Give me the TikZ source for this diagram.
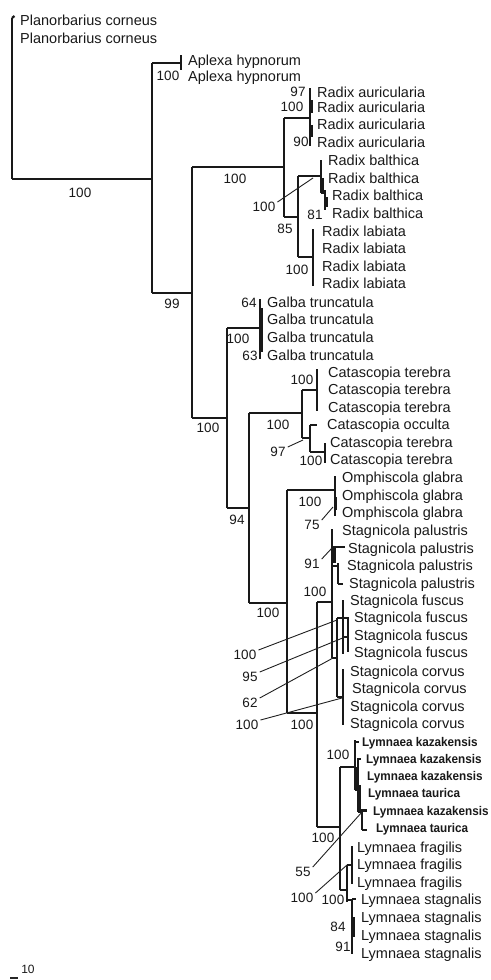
\documentclass[tikz,border=0pt]{standalone}
\usepackage{fontspec}
\setmainfont{Liberation Sans}
\newfontfamily\lymfont[FakeStretch=0.93]{Liberation Sans}
\begin{document}
\begin{tikzpicture}[x=1pt,y=-1pt,
  br/.style={line width=2.2pt, draw=black!90},
  thk/.style={line width=3.6pt, draw=black!90},
  ldr/.style={line width=0.9pt, draw=black!88},
  leaf/.style={anchor=base west, inner sep=0pt, yshift=-5pt, font=\fontsize{14.5}{16}\selectfont, text=black!90},
  lym/.style={anchor=base west, inner sep=0pt, yshift=-4.5pt, font=\fontsize{12.6}{14}\lymfont\bfseries, text=black!90},
  bs/.style={inner sep=0pt, font=\fontsize{13.5}{15}\selectfont, text=black!90},
]
\useasboundingbox (0,0) rectangle (490,980);

% ---------- internal nodes (top, bottom, junction) ----------
\coordinate (R0t) at (12,18);  \coordinate (R0b) at (12,179);
\coordinate (At) at (152,63);  \coordinate (Ab) at (152,293); \coordinate (A) at (152,179);
\coordinate (Apt) at (181,55); \coordinate (Apb) at (181,70); \coordinate (Ap) at (181,63);
\coordinate (Bt) at (192,167); \coordinate (Bb) at (192,418); \coordinate (B) at (192,293);
\coordinate (Radt) at (284,118); \coordinate (Radb) at (284,217); \coordinate (Rad) at (284,167);
\coordinate (Raurt) at (310,88); \coordinate (Raurb) at (310,146); \coordinate (Raur) at (310,118);
\coordinate (BLt) at (298,176); \coordinate (BLb) at (298,257); \coordinate (BL) at (298,217);
\coordinate (Rbalt) at (321,160); \coordinate (Rbalb) at (321,193); \coordinate (Rbal) at (321,176);
\coordinate (Rbaltt) at (325,190); \coordinate (Rbaltb) at (325,210); \coordinate (Rbalt2) at (325,193);
\coordinate (Rlabt) at (313,229); \coordinate (Rlabb) at (313,286); \coordinate (Rlab) at (313,257);
\coordinate (Ct) at (227,328); \coordinate (Cb) at (227,508); \coordinate (C) at (227,418);
\coordinate (Galt) at (260,299); \coordinate (Galb) at (260,359); \coordinate (Gal) at (260,328);
\coordinate (Dt) at (249,413); \coordinate (Db) at (249,603); \coordinate (D) at (249,508);
\coordinate (Catt) at (302,390); \coordinate (Catb) at (302,438); \coordinate (Cat) at (302,413);
\coordinate (Caat) at (317,369); \coordinate (Caab) at (317,411); \coordinate (Caa) at (317,390);
\coordinate (Cabt) at (310,425); \coordinate (Cabb) at (310,452); \coordinate (Cab) at (310,438);
\coordinate (Cact) at (325,443); \coordinate (Cacb) at (325,463); \coordinate (Cac) at (325,452);
\coordinate (Et) at (287,490); \coordinate (Eb) at (287,713); \coordinate (E) at (287,603);
\coordinate (Omt) at (335,476); \coordinate (Omb) at (335,516); \coordinate (Om) at (335,490);
\coordinate (Ft) at (317,602); \coordinate (Fb) at (317,827); \coordinate (F) at (317,713);
\coordinate (Gt) at (332,529); \coordinate (Gb) at (332,658); \coordinate (G) at (332,602);
\coordinate (Palt) at (338,563); \coordinate (Palb) at (338,584); \coordinate (Pal) at (338,566);
\coordinate (Ht) at (337,618); \coordinate (Hb) at (337,697); \coordinate (H) at (337,658);
\coordinate (Fust) at (343,600); \coordinate (Fusb) at (343,654);
\coordinate (Fbox) at (348,652);
\coordinate (Cort) at (343,669); \coordinate (Corb) at (343,725); \coordinate (Cor) at (343,697);
\coordinate (Lt) at (340,767); \coordinate (Lb) at (340,890); \coordinate (L) at (340,827);
\coordinate (Kt) at (355,740); \coordinate (Kb) at (355,790); \coordinate (K) at (355,767);
\coordinate (Kat) at (358,758); \coordinate (Kab) at (358,812);
\coordinate (Kbt) at (362,809); \coordinate (Kbb) at (362,830); \coordinate (Kb2) at (362,812);
\coordinate (Mt) at (347,865); \coordinate (Mb) at (347,902); \coordinate (M) at (347,890);
\coordinate (Frat) at (352,846); \coordinate (Frab) at (352,884); \coordinate (Fra) at (352,865);
\coordinate (Stat) at (352,899); \coordinate (Stab) at (352,954); \coordinate (Sta) at (352,900);

% ---------- verticals ----------
\foreach \n in {R0,A,Ap,B,Rad,Raur,BL,Rbal,Rbalt,Rlab,C,Gal,D,Cat,Caa,Cab,Cac,E,Om,F,G,Pal,H,Fus,Cor,L,K,Ka,Kb,M,Fra,Sta}
  \draw[br] (\n t) -- (\n b);
\draw[br] (R0t) -- (14.5,16);

% ---------- horizontals (parent -> child) ----------
\draw[br] (R0t |- A) -- (A);
\draw[br] (At |- Ap) -- (Ap);
\draw[br] (At |- B) -- (B);
\draw[br] (Bt |- Rad) -- (Rad);
\draw[br] (Radt |- Raur) -- (Raur);
\draw[br] (Radt |- BL) -- (BL);
\draw[br] (BLt |- Rbal) -- (Rbal);
\draw[br] (Rbalt |- Rbalt2) -- (Rbalt2);
\draw[br] (BLt |- Rlab) -- (Rlab);
\draw[br] (Bt |- C) -- (C);
\draw[br] (Ct |- Gal) -- (Gal);
\draw[br] (Ct |- D) -- (D);
\draw[br] (Dt |- Cat) -- (Cat);
\draw[br] (Catt |- Caa) -- (Caa);
\draw[br] (Catt |- Cab) -- (Cab);
\draw[br] (Cabt |- Cac) -- (Cac);
\draw[br] (Cabt) -- (317,425);
\draw[br] (Dt |- E) -- (E);
\draw[br] (Et |- Om) -- (Om);
\draw[br] (Et |- F) -- (F);
\draw[br] (Ft |- G) -- (G);
\draw[br] (332,547) -- (345,547);
\draw[br] (Gt |- Pal) -- (Pal);
\draw[br] (Palb) -- (343,584);
\draw[br] (Gt |- H) -- (H);
\draw[br] (Ht) -- (Ht -| Fbox) -- (Fbox);
\draw[br] (343,637) -- (348,637);
\draw[br] (Ht |- Cor) -- (Cor);
\draw[br] (Ft |- L) -- (L);
\draw[br] (Lt |- K) -- (K);
\draw[br] (355,742) -- (359,742);
\draw[br] (358,759) -- (361,759);
\draw[br] (Kb) -- (Kb -| Kat);
\draw[br] (Kat |- Kb2) -- (Kb2);
\draw[br] (362,810.5) -- (367,810.5);
\draw[br] (Kbb) -- (367,830);
\draw[br] (Lt |- M) -- (M);
\draw[br] (Mt |- Fra) -- (Fra);
\draw[br] (Mt |- Sta) -- (Sta);
\draw[br] (Stat) -- (356,899);

% ---------- collapsed (thick) parts ----------
\draw[thk] (311,100) -- (311,113);
\draw[thk] (311,125) -- (311,137);
\draw[thk] (322,178) -- (322,192);
\draw[thk] (326,197) -- (326,207);
\draw[thk] (261,308) -- (261,352);
\draw[thk] (335.5,497) -- (335.5,510);
\draw[thk] (334,547) -- (334,563);
\draw[thk] (356,767) -- (356,790);
\draw[thk] (359,785) -- (359,812);
\draw[thk] (353,917) -- (353,937);

% ---------- leaves ----------
\node[leaf] (l1) at (20,20) {Planorbarius corneus};
\node[leaf] (l2) at (20,38) {Planorbarius corneus};
\node[leaf] (l3) at (188,60) {Aplexa hypnorum};
\node[leaf] (l4) at (188,76) {Aplexa hypnorum};
\node[leaf] (l5) at (317,92) {Radix auricularia};
\node[leaf] (l6) at (317,107) {Radix auricularia};
\node[leaf] (l7) at (317,124) {Radix auricularia};
\node[leaf] (l8) at (317,142) {Radix auricularia};
\node[leaf] (l9) at (328,160) {Radix balthica};
\node[leaf] (l10) at (328,178) {Radix balthica};
\node[leaf] (l11) at (332,195) {Radix balthica};
\node[leaf] (l12) at (332,213) {Radix balthica};
\node[leaf] (l13) at (322,231) {Radix labiata};
\node[leaf] (l14) at (322,248) {Radix labiata};
\node[leaf] (l15) at (322,266) {Radix labiata};
\node[leaf] (l16) at (322,283) {Radix labiata};
\node[leaf] (l17) at (267,302) {Galba truncatula};
\node[leaf] (l18) at (267,319) {Galba truncatula};
\node[leaf] (l19) at (267,337) {Galba truncatula};
\node[leaf] (l20) at (267,355) {Galba truncatula};
\node[leaf] (l21) at (328,372) {Catascopia terebra};
\node[leaf] (l22) at (328,389) {Catascopia terebra};
\node[leaf] (l23) at (328,407) {Catascopia terebra};
\node[leaf] (l24) at (327,424) {Catascopia occulta};
\node[leaf] (l25) at (330,442) {Catascopia terebra};
\node[leaf] (l26) at (330,459) {Catascopia terebra};
\node[leaf] (l27) at (342,477) {Omphiscola glabra};
\node[leaf] (l28) at (342,495) {Omphiscola glabra};
\node[leaf] (l29) at (342,512) {Omphiscola glabra};
\node[leaf] (l30) at (342,530) {Stagnicola palustris};
\node[leaf] (l31) at (348,548) {Stagnicola palustris};
\node[leaf] (l32) at (347,565) {Stagnicola palustris};
\node[leaf] (l33) at (349,583) {Stagnicola palustris};
\node[leaf] (l34) at (350,600) {Stagnicola fuscus};
\node[leaf] (l35) at (354,617) {Stagnicola fuscus};
\node[leaf] (l36) at (354,635) {Stagnicola fuscus};
\node[leaf] (l37) at (354,652) {Stagnicola fuscus};
\node[leaf] (l38) at (350,671) {Stagnicola corvus};
\node[leaf] (l39) at (352,688) {Stagnicola corvus};
\node[leaf] (l40) at (350,706) {Stagnicola corvus};
\node[leaf] (l41) at (350,723) {Stagnicola corvus};
\node[lym] (l42) at (362,742) {Lymnaea kazakensis};
\node[lym] (l43) at (366,759) {Lymnaea kazakensis};
\node[lym] (l44) at (367,776) {Lymnaea kazakensis};
\node[lym] (l45) at (368,793) {Lymnaea taurica};
\node[lym] (l46) at (373,811) {Lymnaea kazakensis};
\node[lym] (l47) at (376,828) {Lymnaea taurica};
\node[leaf] (l48) at (357,847) {Lymnaea fragilis};
\node[leaf] (l49) at (357,864) {Lymnaea fragilis};
\node[leaf] (l50) at (357,882) {Lymnaea fragilis};
\node[leaf] (l51) at (361,899) {Lymnaea stagnalis};
\node[leaf] (l52) at (361,917) {Lymnaea stagnalis};
\node[leaf] (l53) at (361,935) {Lymnaea stagnalis};
\node[leaf] (l54) at (361,953) {Lymnaea stagnalis};

% ---------- support values ----------
\node[bs] (s1) at (80,193) {100};
\node[bs] (s2) at (168,76) {100};
\node[bs] (s3) at (172,304) {99};
\node[bs] (s4) at (235,179) {100};
\node[bs] (s5) at (298,92) {97};
\node[bs] (s6) at (292,107) {100};
\node[bs] (s7) at (301,142) {90};
\node[bs] (s8) at (264,207) {100};
\node[bs] (s9) at (315,215) {81};
\node[bs] (s10) at (285,229) {85};
\node[bs] (s11) at (297,270) {100};
\node[bs] (s12) at (249,303) {64};
\node[bs] (s13) at (238,339) {100};
\node[bs] (s14) at (250,356) {63};
\node[bs] (s15) at (302,380) {100};
\node[bs] (s16) at (208,428) {100};
\node[bs] (s17) at (278,425) {100};
\node[bs] (s18) at (278,452) {97};
\node[bs] (s19) at (311,461) {100};
\node[bs] (s20) at (237,520) {94};
\node[bs] (s21) at (310,502) {100};
\node[bs] (s22) at (312,525) {75};
\node[bs] (s23) at (312,564) {91};
\node[bs] (s24) at (315,592) {100};
\node[bs] (s25) at (268,613) {100};
\node[bs] (s26) at (245,655) {100};
\node[bs] (s27) at (250,677) {95};
\node[bs] (s28) at (250,703) {62};
\node[bs] (s29) at (247,725) {100};
\node[bs] (s30) at (302,725) {100};
\node[bs] (s31) at (338,755) {100};
\node[bs] (s32) at (323,838) {100};
\node[bs] (s33) at (303,872) {55};
\node[bs] (s34) at (302,898) {100};
\node[bs] (s35) at (333,900) {100};
\node[bs] (s36) at (338,927) {84};
\node[bs] (s37) at (343,947) {91};

% ---------- leader lines ----------
\coordinate (q8) at (313,178);
\coordinate (q18) at (303,440);
\coordinate (q22) at (333,507);
\coordinate (q23) at (332,548);
\coordinate (q26) at (337,620);
\coordinate (q27) at (345,637);
\coordinate (q28) at (333,658);
\coordinate (q29) at (342,698);
\coordinate (q33) at (362,812);
\coordinate (q34) at (347,865);
\foreach \s in {8,18,22,23,26,27,28,29,33,34}
  \draw[ldr] ([xshift=2pt]s\s.north east) -- (q\s);

% ---------- scale ----------
\node[bs, font=\fontsize{12}{13}\selectfont] (scale) at (28,969) {10};
\coordinate (sc1) at (10,978); \coordinate (sc2) at (18,978);
\draw[line width=1.5pt, draw=black!85] (sc1) -- (sc2);
\end{tikzpicture}
\end{document}
